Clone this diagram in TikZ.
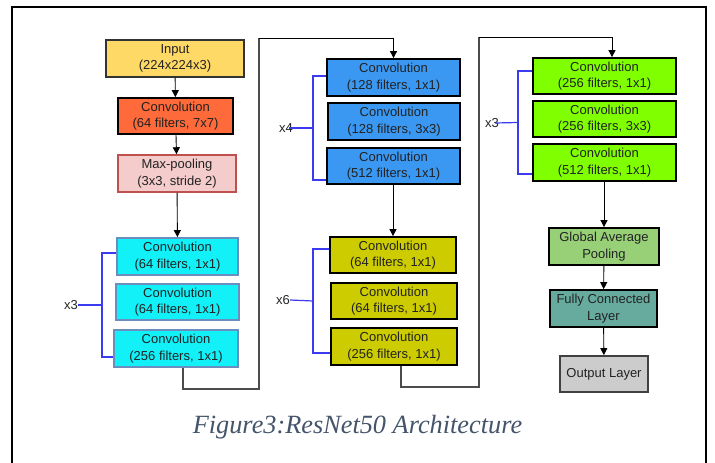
\documentclass[tikz,border=0pt]{standalone}
\usepackage{fontspec}
\setmainfont{Liberation Sans}
\newfontfamily\capfont{Liberation Serif}
\usetikzlibrary{arrows.meta,calc}
\definecolor{cIn}{HTML}{FFD966}
\definecolor{cSeven}{HTML}{FF6A3A}
\definecolor{cPool}{HTML}{F5CCCC}
\definecolor{cPoolB}{HTML}{C0504D}
\definecolor{cCyan}{HTML}{12F0F8}
\definecolor{cCyanB}{HTML}{6C8EBF}
\definecolor{cBlue}{HTML}{3A98F2}
\definecolor{cOlive}{HTML}{CCCC00}
\definecolor{cGreen}{HTML}{80FF00}
\definecolor{cGap}{HTML}{97D077}
\definecolor{cFc}{HTML}{67AB9F}
\definecolor{cOut}{HTML}{CCCCCC}
\definecolor{cBrk}{HTML}{3A3AF0}
\definecolor{cCap}{HTML}{44546A}
\definecolor{cTxt}{HTML}{222222}
\tikzset{
  blk/.style={draw=black, line width=1.8pt, text=cTxt, align=center, inner sep=0pt,
    font=\fontsize{13}{16.5}\selectfont},
  arr/.style={draw=black, line width=0.9pt, -{Triangle[width=7pt,length=7pt]}},
  snake/.style={draw=black!70, line width=1.1pt},
  brk/.style={draw=cBrk, line width=1.2pt},
  rep/.style={font=\fontsize{13}{16}\selectfont, text=black!85, inner sep=0pt},
}
\begin{document}
\begin{tikzpicture}[x=1pt,y=-1pt]
\useasboundingbox (0,0) rectangle (715,463);
\fill[white] (0,0) rectangle (715,463);
\draw[line width=2pt] (12,470) -- (12,7) -- (706,7) -- (706,470);

% column 1
\node[blk, draw=black!80, line width=1.5pt, fill=cIn, minimum width=138pt, minimum height=37pt] (in) at (175,58.5) {Input\\(224x224x3)};
\node[blk, fill=cSeven, minimum width=115pt, minimum height=36pt] (c7) at (175.5,116) {Convolution\\(64 filters, 7x7)};
\node[blk, draw=cPoolB, line width=1.5pt, fill=cPool, minimum width=118pt, minimum height=37pt] (mp) at (177,173.5) {Max-pooling\\(3x3, stride 2)};
\node[blk, draw=cCyanB, line width=1.8pt, fill=cCyan, minimum width=121pt, minimum height=37pt] (cy1) at (177.5,256.5) {Convolution\\(64 filters, 1x1)};
\node[blk, draw=cCyanB, line width=1.8pt, fill=cCyan, minimum width=123pt, minimum height=36pt] (cy2) at (177.5,302) {Convolution\\(64 filters, 1x1)};
\node[blk, draw=cCyanB, line width=1.8pt, fill=cCyan, minimum width=124pt, minimum height=37pt] (cy3) at (176,348.5) {Convolution\\(256 filters, 1x1)};

% column 2
\node[blk, fill=cBlue, minimum width=133pt, minimum height=37pt] (b1) at (393.5,77.5) {Convolution\\(128 filters, 1x1)};
\node[blk, fill=cBlue, minimum width=132pt, minimum height=37pt] (b2) at (394,121.5) {Convolution\\(128 filters, 3x3)};
\node[blk, fill=cBlue, minimum width=133pt, minimum height=36pt] (b3) at (393.5,166) {Convolution\\(512 filters, 1x1)};
\node[blk, fill=cOlive, minimum width=126pt, minimum height=36pt] (y1) at (393,255) {Convolution\\(64 filters, 1x1)};
\node[blk, fill=cOlive, minimum width=126pt, minimum height=36pt] (y2) at (394,301) {Convolution\\(64 filters, 1x1)};
\node[blk, fill=cOlive, minimum width=126pt, minimum height=37pt] (y3) at (394,346.5) {Convolution\\(256 filters, 1x1)};

% column 3
\node[blk, fill=cGreen, minimum width=143pt, minimum height=36pt] (g1) at (604.5,76) {Convolution\\(256 filters, 1x1)};
\node[blk, fill=cGreen, minimum width=143pt, minimum height=36pt] (g2) at (604.5,119) {Convolution\\(256 filters, 3x3)};
\node[blk, fill=cGreen, minimum width=143pt, minimum height=37pt] (g3) at (604.5,162.5) {Convolution\\(512 filters, 1x1)};
\node[blk, fill=cGap, minimum width=110pt, minimum height=37pt] (gap) at (604,246.5) {Global Average\\Pooling};
\node[blk, fill=cFc, minimum width=107pt, minimum height=37pt] (fc) at (603.5,308.5) {Fully Connected\\Layer};
\node[blk, draw=black!75, fill=cOut, minimum width=88pt, minimum height=36pt] (out) at (604,374) {Output Layer};

% straight arrows
\draw[arr] (in) -- (c7);
\draw[arr] (c7) -- (mp);
\draw[arr] (mp) -- (cy1);
\draw[arr] (b3.south -| y1.north) -- (y1.north);
\draw[arr] (g3.south -| gap.north) -- (gap.north);
\draw[arr] (gap) -- (fc);
\draw[arr] (fc) -- (out);

% snake connectors
\coordinate (k1) at (183,389);
\coordinate (k2) at (259,389);
\coordinate (k3) at (259,38);
\draw[snake] (cy3.south -| k1) -- (k1) -- (k2) -- (k3);
\draw[arr] (k3) -| (b1.north);
\coordinate (m1) at (401,387);
\coordinate (m2) at (479,387);
\coordinate (m3) at (479,37);
\coordinate (m4) at (612,37);
\draw[snake] (y3.south -| m1) -- (m1) -- (m2) -- (m3);
\draw[arr] (m3) -- (m4) -- (m4 |- g1.north);

% repetition brackets
\coordinate (kb1) at (102,305);
\node[rep] (r1) at (71,305) {x3};
\draw[brk] ([yshift=3.5pt]cy1.west) -| (kb1) |- ([yshift=-8.5pt]cy3.west);
\draw[brk] (r1.east) -- (kb1);

\coordinate (kb2) at (313,128);
\node[rep] (r2) at (286,128) {x4};
\draw[brk] ([yshift=1.5pt]b1.west) -| (kb2) |- ([yshift=-14pt]b3.west);
\draw[brk] ([xshift=-4pt]r2.east) -- (kb2);

\coordinate (kb3) at (313,301);
\node[rep] (r3) at (283,300) {x6};
\draw[brk] ([yshift=6pt]y1.west) -| (kb3) |- ([yshift=-6.5pt]y3.west);
\draw[brk] (r3.east) -- (kb3);

\coordinate (kb4) at (518,122.5);
\node[rep] (r4) at (492,123) {x3};
\draw[brk] ([yshift=5pt]g1.west) -| (kb4) |- ([yshift=-11.5pt]g3.west);
\draw[brk] ([xshift=-4pt]r4.east) -- (kb4);

% caption
\node[anchor=base, inner sep=0pt, text=cCap, font=\capfont\itshape\fontsize{26.3}{30}\selectfont] (cap) at (357.5,433) {Figure3:ResNet50 Architecture};
\end{tikzpicture}
\end{document}
